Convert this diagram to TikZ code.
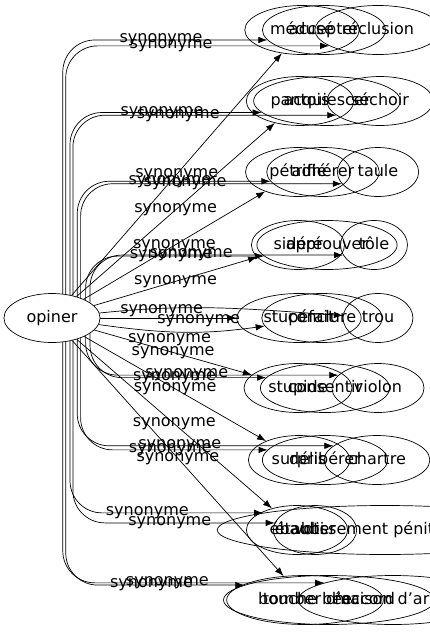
\documentclass[tikz,border=0pt]{standalone}
\usepackage{fontspec}
\setmainfont{DejaVu Sans}
\usetikzlibrary{arrows.meta,shapes.geometric}

\begin{document}
\begin{tikzpicture}[x=1pt,y=-1pt,>={Latex[length=9pt,width=6.5pt]},line width=.7pt,
 word/.style={draw,ellipse,inner xsep=8.5pt,inner ysep=0pt,minimum height=49pt,text height=12pt,text depth=3.5pt,font=\fontsize{16}{19}\selectfont},
 syn/.style={font=\fontsize{16}{19}\selectfont,inner sep=1pt},
 elbow/.style={rounded corners=32pt}]
\useasboundingbox (0,0) rectangle (429,635);
\node[word] (opiner) at (52,318) {opiner};
% rangée du haut
\node[word] (medu) at (302,30) {médusé};
\node[word] (accepter) at (324,30) {accepter};
\node[word] (reclusion) at (378,30) {réclusion};
\node[word] (pantois) at (300,101) {pantois};
\node[word] (acquiescer) at (327,101) {acquiescer};
\node[word] (sechoir) at (380,101) {séchoir};
\node[word] (petrifie) at (298,172) {pétrifié};
\node[word] (adherer) at (323,172) {adhérer};
\node[word] (taule) at (378,172) {taule};
\node[word] (sidere) at (298,245) {sidéré};
\node[word] (approuver) at (327,245) {approuver};
\node[word] (tole) at (374,245) {tôle};
% rangée du milieu
\node[word] (stupefait) at (299,318) {stupéfait};
\node[word] (conclure) at (322,318) {conclure};
\node[word] (trou) at (378,318) {trou};
% rangée du bas
\node[word] (stupide) at (298,388) {stupide};
\node[word] (consentir) at (325,388) {consentir};
\node[word] (violon) at (378,388) {violon};
\node[word] (surpris) at (299,460) {surpris};
\node[word] (deliberer) at (325,460) {délibérer};
\node[word] (chartre) at (377,460) {chartre};
\node[word] (ebaubi) at (297,530) {ébaubi};
\node[word] (voter) at (315,530) {voter};
\node[word] (penit) at (385,530) {établissement pénitentiaire};
\node[word] (bouche) at (305,600) {bouche bée};
\node[word] (tomber) at (329,600) {tomber d'accord};
\node[word] (maison) at (393,600) {maison d'arrêt};
% vers le haut
\draw[->] (opiner) -- node[syn]{synonyme} (medu);
\draw[->,elbow] (opiner.66) |- node[syn,pos=.74]{synonyme} (accepter.190);
\draw[->,elbow] (opiner.60) |- node[syn,pos=.7]{synonyme} (reclusion.198);
\draw[->] (opiner) -- node[syn]{synonyme} (pantois);
\draw[->,elbow] (opiner.52) |- node[syn,pos=.74]{synonyme} (acquiescer.190);
\draw[->,elbow] (opiner.47) |- node[syn,pos=.7]{synonyme} (sechoir.198);
\draw[->] (opiner) -- node[syn]{synonyme} (petrifie);
\draw[->,elbow] (opiner.40) |- node[syn,pos=.74]{synonyme} (adherer.190);
\draw[->,elbow] (opiner.35) |- node[syn,pos=.7]{synonyme} (taule.198);
\draw[->] (opiner) -- node[syn]{synonyme} (sidere);
\draw[->,elbow] (opiner.28) |- node[syn,pos=.74]{synonyme} (approuver.190);
\draw[->,elbow] (opiner.22) |- node[syn,pos=.7]{synonyme} (tole.198);
% au milieu
\draw[->] (opiner) -- node[syn,pos=.45,above]{synonyme} (stupefait);
\draw[->] (opiner) to[out=-8,in=188] node[syn,pos=.42,below]{synonyme} (conclure);
\draw[->] (opiner) to[out=6,in=176] node[syn,pos=.4,below=5pt]{synonyme} (trou);
% vers le bas
\draw[->] (opiner) -- node[syn]{synonyme} (stupide);
\draw[->,elbow] (opiner.-22) |- node[syn,pos=.74]{synonyme} (consentir.170);
\draw[->,elbow] (opiner.-28) |- node[syn,pos=.7]{synonyme} (violon.162);
\draw[->] (opiner) -- node[syn]{synonyme} (surpris);
\draw[->,elbow] (opiner.-35) |- node[syn,pos=.74]{synonyme} (deliberer.170);
\draw[->,elbow] (opiner.-40) |- node[syn,pos=.7]{synonyme} (chartre.162);
\draw[->] (opiner) -- node[syn]{synonyme} (ebaubi);
\draw[->,elbow] (opiner.-47) |- node[syn,pos=.74]{synonyme} (voter.170);
\draw[->,elbow] (opiner.-52) |- node[syn,pos=.7]{synonyme} (penit.172);
\draw[->] (opiner) -- node[syn]{synonyme} (bouche);
\draw[->,elbow] (opiner.-60) |- node[syn,pos=.74]{synonyme} (tomber.170);
\draw[->,elbow] (opiner.-66) |- node[syn,pos=.7]{synonyme} (maison.166);
\end{tikzpicture}
\end{document}
